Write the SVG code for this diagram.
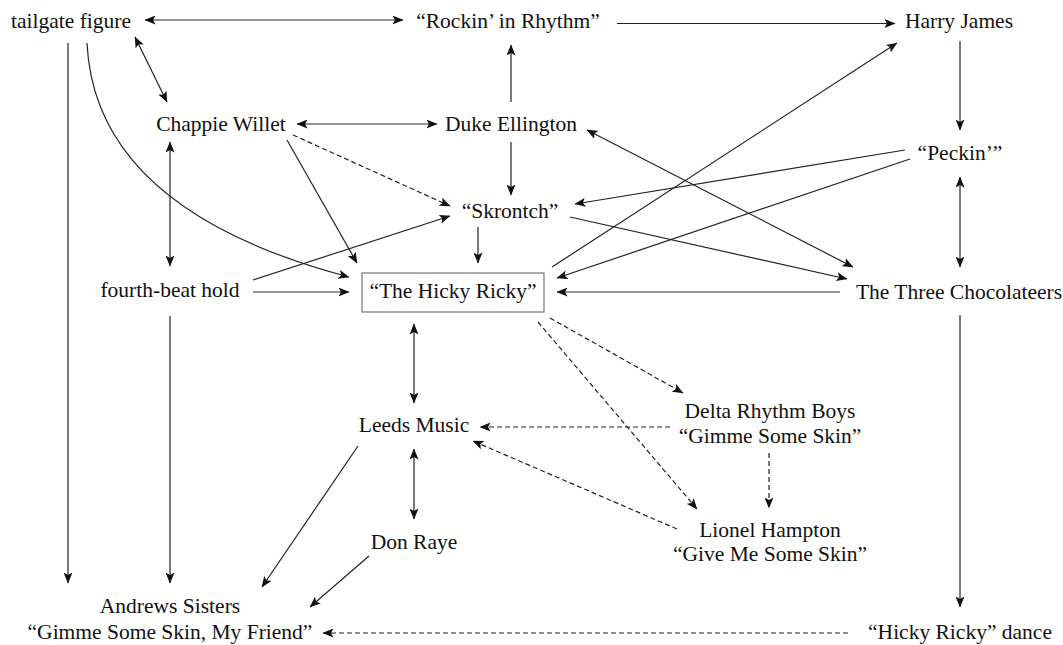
<svg xmlns="http://www.w3.org/2000/svg" width="1063" height="645" viewBox="0 0 1063 645">
<defs>
<style>
text{font-family:"Liberation Serif","Times New Roman",serif;font-size:21.5px;fill:#111;text-anchor:middle}
.c{stroke:#222;stroke-width:1.2;fill:none;marker-end:url(#ah)}
.b{marker-start:url(#ah)}
.d{stroke-dasharray:5 3}
</style>
<marker id="ah" markerUnits="userSpaceOnUse" viewBox="0 0 11 9" markerWidth="11" markerHeight="9" refX="10.5" refY="4.5" orient="auto-start-reverse">
<path d="M0,0 L11,4.5 L0,9 L2.5,4.5 z" fill="#111"/>
</marker>
</defs>
<rect width="1063" height="645" fill="#fff"/>
<g id="connectors">
<line class="c b" x1="145" y1="20" x2="403" y2="20"/>
<line class="c" x1="617" y1="23.5" x2="895" y2="23.5"/>
<line class="c b" x1="135" y1="37" x2="167" y2="102"/>
<line class="c" x1="68" y1="43" x2="68" y2="583"/>
<path class="c" d="M87,43 Q95,210 349,277"/>
<line class="c b" x1="297" y1="124" x2="437" y2="124"/>
<line class="c d" x1="293" y1="135" x2="450" y2="206"/>
<line class="c" x1="287" y1="140" x2="357" y2="263"/>
<line class="c b" x1="170" y1="142" x2="170" y2="266"/>
<line class="c" x1="170" y1="316" x2="170" y2="583"/>
<line class="c" x1="253" y1="280" x2="450" y2="216"/>
<line class="c" x1="253" y1="292" x2="349" y2="292"/>
<line class="c" x1="511" y1="102" x2="511" y2="45"/>
<line class="c" x1="511" y1="142" x2="511" y2="195"/>
<line class="c" x1="478" y1="227" x2="478" y2="263"/>
<line class="c" x1="960" y1="41" x2="960" y2="130"/>
<line class="c b" x1="960" y1="177" x2="960" y2="267"/>
<line class="c" x1="905" y1="150" x2="575" y2="204"/>
<line class="c" x1="910" y1="159" x2="557" y2="278"/>
<line class="c" x1="552" y1="267" x2="897" y2="43"/>
<line class="c" x1="570" y1="217" x2="847" y2="279"/>
<line class="c b" x1="587" y1="130" x2="853" y2="267"/>
<line class="c" x1="840" y1="292" x2="557" y2="292"/>
<line class="c" x1="960" y1="315" x2="960" y2="607"/>
<line class="c b" x1="414" y1="324" x2="414" y2="403"/>
<line class="c b" x1="414" y1="449" x2="414" y2="519"/>
<line class="c" x1="358" y1="446" x2="262" y2="587"/>
<line class="c" x1="369" y1="556" x2="310" y2="607"/>
<line class="c d" x1="550" y1="318" x2="683" y2="393"/>
<line class="c d" x1="538" y1="322" x2="697" y2="509"/>
<line class="c d" x1="670" y1="427" x2="480" y2="427"/>
<line class="c d" x1="677" y1="529" x2="473" y2="441"/>
<line class="c d" x1="769" y1="453" x2="769" y2="508"/>
<line class="c d" x1="848" y1="633" x2="323" y2="633"/>
</g>
<g id="tailgate"><text x="71" y="28">tailgate figure</text></g>
<g id="rockin"><text x="508" y="28">“Rockin’ in Rhythm”</text></g>
<g id="harry"><text x="959" y="28">Harry James</text></g>
<g id="chappie"><text x="221" y="131">Chappie Willet</text></g>
<g id="duke"><text x="511" y="131">Duke Ellington</text></g>
<g id="peckin"><text x="960" y="160">“Peckin’”</text></g>
<g id="skrontch"><text x="510" y="218">“Skrontch”</text></g>
<g id="fourth"><text x="170" y="297">fourth-beat hold</text></g>
<g id="hicky"><rect x="362" y="273" width="182" height="39" fill="none" stroke="#777" stroke-width="1.2"/><text x="453" y="298">“The Hicky Ricky”</text></g>
<g id="three"><text x="959" y="299">The Three Chocolateers</text></g>
<g id="leeds"><text x="414" y="432">Leeds Music</text></g>
<g id="delta"><text x="770" y="418">Delta Rhythm Boys</text><text x="770" y="443">“Gimme Some Skin”</text></g>
<g id="lionel"><text x="770" y="537">Lionel Hampton</text><text x="770" y="561">“Give Me Some Skin”</text></g>
<g id="donraye"><text x="414" y="549">Don Raye</text></g>
<g id="andrews"><text x="170" y="613">Andrews Sisters</text><text x="170" y="639">“Gimme Some Skin, My Friend”</text></g>
<g id="dance"><text x="960" y="639">“Hicky Ricky” dance</text></g>
</svg>
